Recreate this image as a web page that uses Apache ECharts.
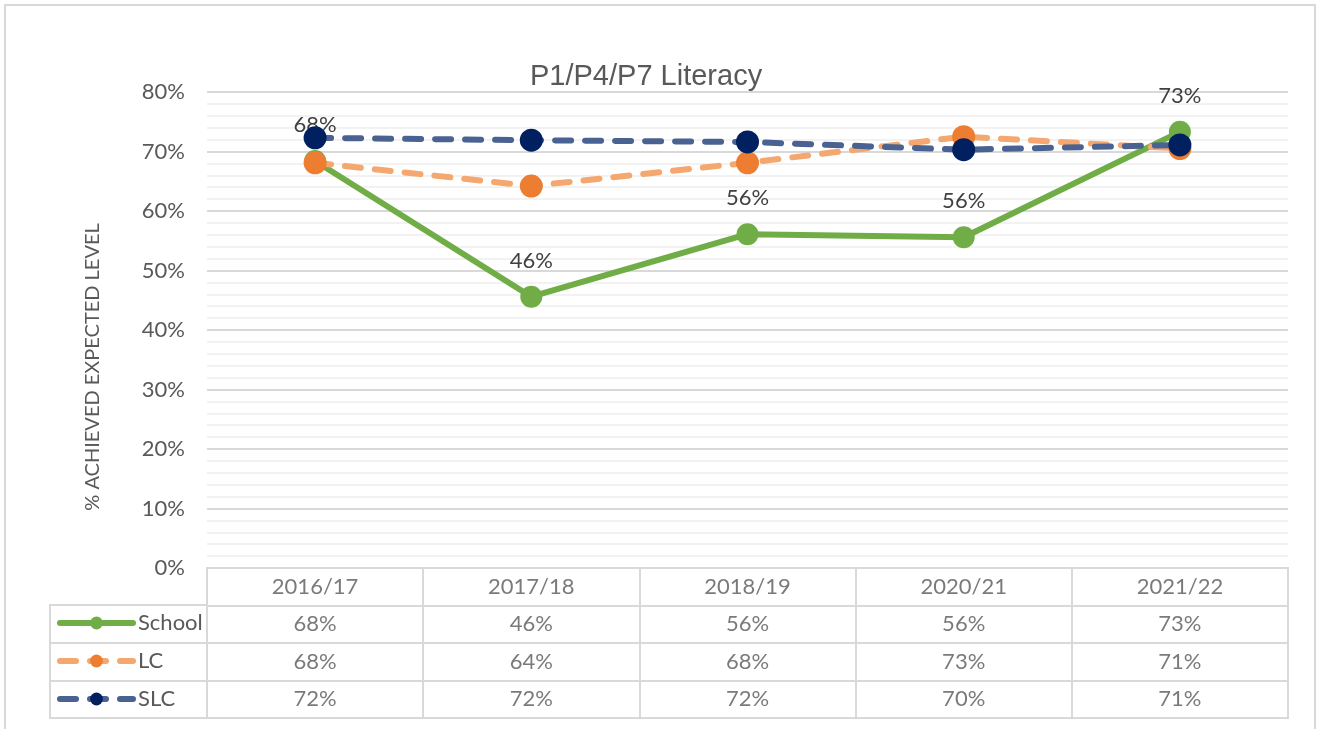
<!DOCTYPE html>
<html>
<head>
<meta charset="utf-8">
<title>P1/P4/P7 Literacy</title>
<script src="https://cdn.jsdelivr.net/npm/echarts@6/dist/echarts.min.js"></script>
<style>
  html, body { margin: 0; padding: 0; background: #fff; }
  #chart { width: 1317px; height: 729px; }
</style>
</head>
<body>
<div id="chart"></div>
<script>
// data
const categories = ["2016/17", "2017/18", "2018/19", "2020/21", "2021/22"];
const schoolValues = [68.4, 45.6, 56.1, 55.6, 73.3];
const lcValues = [68.1, 64.2, 68.1, 72.5, 70.5];
const slcValues = [72.3, 71.9, 71.6, 70.3, 71.1];
const yTicks = [0, 10, 20, 30, 40, 50, 60, 70, 80];

const seriesNames = ["School", "LC", "SLC"];
const seriesValues = [schoolValues, lcValues, slcValues];

const font = "Lato, 'Open Sans', sans-serif";
const textColor = "#595959";
const borderColor = "#d9d9d9";

// cells of the data table under the plot
const tableCells = [];
categories.forEach((c, i) => {
  tableCells.push({ value: [c, "hdr"], name: c });
  seriesNames.forEach((s, k) => {
    tableCells.push({ value: [c, s], name: Math.round(seriesValues[k][i]) + "%" });
  });
});

const myChart = echarts.init(document.getElementById("chart"));

myChart.setOption({
  animation: false,
  title: {
    text: "P1/P4/P7 Literacy",
    left: 530,
    top: 62,
    padding: 0,
    textStyle: {
      fontFamily: "'Liberation Sans', Arial, sans-serif",
      fontSize: 29,
      fontWeight: "normal",
      color: textColor
    }
  },
  legend: seriesNames.map((name, k) => ({
    data: [name],
    left: 57,
    top: 612 + k * 38,
    padding: 0,
    itemWidth: 73,
    itemHeight: 16,
    lineStyle: { width: 6, cap: "round" },
    textStyle: { fontFamily: font, fontSize: 22, color: textColor },
    selectedMode: false
  })),
  graphic: [
    {
      type: "rect",
      shape: { x: 5, y: 5, width: 1310, height: 740 },
      style: { fill: "none", stroke: borderColor, lineWidth: 2 },
      silent: true
    },
    {
      type: "text",
      x: 93,
      y: 367,
      rotation: Math.PI / 2,
      style: {
        text: "% ACHIEVED EXPECTED LEVEL",
        fontFamily: font,
        fontSize: 20,
        fill: textColor,
        align: "center",
        verticalAlign: "middle"
      }
    }
  ],
  grid: [
    { left: 207, right: 29, top: 92, bottom: 161 },
    { left: 207, right: 29, top: 568, bottom: 11, show: true, borderColor: borderColor, borderWidth: 2 },
    { left: 50, width: 157, top: 605, bottom: 11, show: true, borderColor: borderColor, borderWidth: 2 }
  ],
  xAxis: [
    {
      gridIndex: 0,
      type: "category",
      data: categories,
      axisLine: { show: false },
      axisTick: { show: false },
      axisLabel: { show: false }
    },
    {
      gridIndex: 1,
      type: "category",
      data: categories,
      axisLine: { show: false },
      axisTick: { show: false },
      axisLabel: { show: false },
      splitLine: { show: true, interval: 0, lineStyle: { color: borderColor, width: 2 } }
    },
    {
      gridIndex: 2,
      type: "value",
      show: false
    }
  ],
  yAxis: [
    {
      gridIndex: 0,
      type: "value",
      min: yTicks[0],
      max: yTicks[yTicks.length - 1],
      interval: 10,
      axisLine: { show: false },
      axisTick: { show: false },
      axisLabel: {
        formatter: "{value}%",
        margin: 22,
        fontFamily: font,
        fontSize: 22,
        color: textColor
      },
      splitLine: { lineStyle: { color: borderColor, width: 2 } },
      minorTick: { show: false, splitNumber: 5 },
      minorSplitLine: { show: true, lineStyle: { color: "#f2f2f2", width: 2 } }
    },
    {
      gridIndex: 1,
      type: "category",
      inverse: true,
      data: ["hdr"].concat(seriesNames),
      axisLine: { show: false },
      axisTick: { show: false },
      axisLabel: { show: false },
      splitLine: { show: true, interval: 0, lineStyle: { color: borderColor, width: 2 } }
    },
    {
      gridIndex: 2,
      type: "category",
      inverse: true,
      data: seriesNames,
      axisLine: { show: false },
      axisTick: { show: false },
      axisLabel: { show: false },
      splitLine: { show: true, interval: 0, lineStyle: { color: borderColor, width: 2 } }
    }
  ],
  series: [
    {
      name: "School",
      type: "line",
      data: schoolValues,
      symbol: "circle",
      symbolSize: 22,
      itemStyle: { color: "#70ad47" },
      lineStyle: { color: "#70ad47", width: 6 },
      label: {
        show: true,
        position: "top",
        distance: 14,
        formatter: p => Math.round(p.value) + "%",
        fontFamily: font,
        fontSize: 22,
        color: "#404040"
      },
      z: 2
    },
    {
      name: "LC",
      type: "line",
      data: lcValues,
      symbol: "circle",
      symbolSize: 23,
      itemStyle: { color: "#ed7d31" },
      lineStyle: { color: "#f4a76f", width: 6, type: [16, 14], cap: "round" },
      z: 3
    },
    {
      name: "SLC",
      type: "line",
      data: slcValues,
      symbol: "circle",
      symbolSize: 23,
      itemStyle: { color: "#002060" },
      lineStyle: { color: "#4a6291", width: 6, type: [16, 14], cap: "round" },
      z: 4
    },
    {
      name: "table",
      type: "scatter",
      xAxisIndex: 1,
      yAxisIndex: 1,
      data: tableCells,
      symbolSize: 1,
      itemStyle: { color: "rgba(0,0,0,0)" },
      label: {
        show: true,
        position: "inside",
        formatter: p => p.name,
        fontFamily: font,
        fontSize: 22,
        color: textColor
      },
      silent: true
    }
  ]
});
</script>
</body>
</html>
